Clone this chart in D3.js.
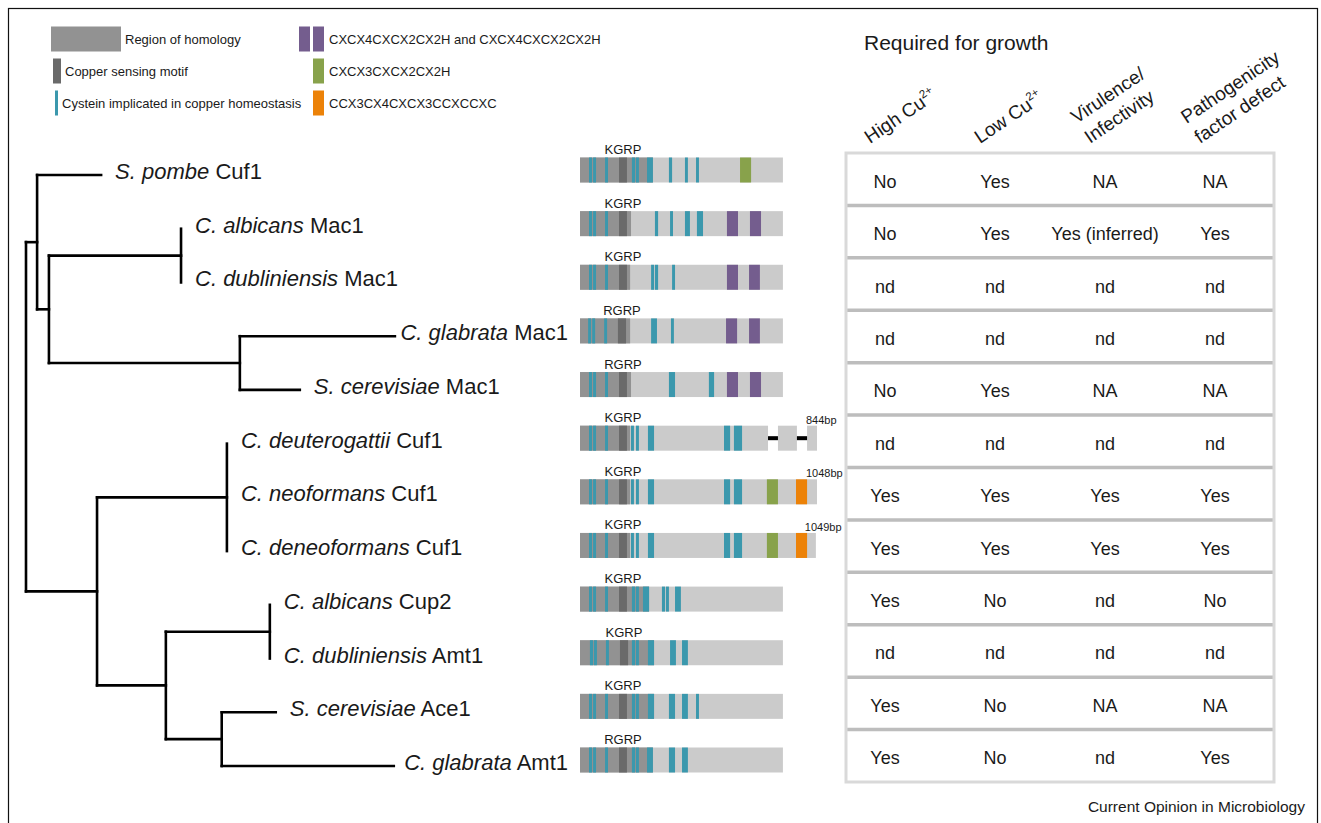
<!DOCTYPE html>
<html>
<head>
<meta charset="utf-8">
<script src="https://cdn.jsdelivr.net/npm/d3@7"></script>
<style>
  html, body { margin: 0; padding: 0; background: #fff; }
  svg { display: block; font-family: "Liberation Sans", Arial, Helvetica, sans-serif; }
</style>
</head>
<body>
<svg id="fig" width="1321" height="823"></svg>
<script>
// rows, top to bottom
const species = ["S. pombe", "C. albicans", "C. dubliniensis", "C. glabrata", "S. cerevisiae",
  "C. deuterogattii", "C. neoformans", "C. deneoformans", "C. albicans", "C. dubliniensis",
  "S. cerevisiae", "C. glabrata"];
const proteins = ["Cuf1", "Mac1", "Mac1", "Mac1", "Mac1", "Cuf1", "Cuf1", "Cuf1", "Cup2", "Amt1", "Ace1", "Amt1"];
const rowKeys = species.map((s, i) => s + " " + proteins[i]);

// tree as a parent table (branch lengths)
const nodeIds = ["root", "n1", "S. pombe Cuf1", "n2", "n3", "C. albicans Mac1", "C. dubliniensis Mac1",
  "n4", "C. glabrata Mac1", "S. cerevisiae Mac1", "n5", "n6", "C. deuterogattii Cuf1",
  "C. neoformans Cuf1", "C. deneoformans Cuf1", "n7", "n8", "C. albicans Cup2",
  "C. dubliniensis Amt1", "n9", "S. cerevisiae Ace1", "C. glabrata Amt1"];
const nodeParents = ["", "root", "n1", "n1", "n2", "n3", "n3", "n2", "n4", "n4", "root", "n5",
  "n6", "n6", "n6", "n5", "n7", "n8", "n8", "n7", "n9", "n9"];
const branchLengths = [0, 0.030, 0.173, 0.032, 0.357, 0, 0, 0.516, 0.419, 0.162, 0.192, 0.351,
  0, 0, 0, 0.186, 0.281, 0, 0, 0.151, 0.146, 0.465];

// protein schematics (positions in residues)
const proteinLength = [899, 899, 899, 899, 899, 1050, 1050, 1045, 899, 899, 899, 899];
const homologyEnd = [323, 226, 222, 222, 226, 222, 222, 222, 306, 328, 328, 323];
const motifName = ["KGRP", "KGRP", "KGRP", "RGRP", "RGRP", "KGRP", "KGRP", "KGRP", "KGRP", "KGRP", "KGRP", "RGRP"];
const copperMotif = [[173, 208], [173, 208], [173, 208], [168, 204], [173, 208], [173, 208],
  [173, 208], [173, 208], [173, 208], [177, 213], [173, 208], [173, 208]];
const cryptoCys = [[40, 53], [58, 71], [111, 124], [226, 239], [248, 261], [301, 328], [638, 665], [682, 718]];
const cysteines = [
  [[40, 53], [58, 71], [111, 124], [230, 244], [248, 261], [297, 323], [394, 408], [465, 478], [514, 527]],
  [[40, 53], [58, 71], [111, 124], [332, 346], [399, 412], [465, 487], [518, 545]],
  [[40, 53], [58, 71], [111, 124], [315, 328], [332, 346], [408, 421]],
  [[36, 49], [54, 67], [107, 120], [315, 341], [403, 416]],
  [[40, 53], [58, 71], [111, 124], [394, 421], [571, 594]],
  cryptoCys, cryptoCys, cryptoCys,
  [[40, 53], [58, 71], [111, 124], [230, 244], [248, 261], [279, 306], [363, 377], [381, 394], [421, 447]],
  [[44, 58], [62, 75], [115, 128], [230, 244], [248, 261], [301, 328], [399, 425], [452, 478]],
  [[40, 53], [58, 71], [111, 124], [230, 244], [248, 261], [301, 328], [394, 421], [452, 478], [514, 527]],
  [[40, 53], [58, 71], [111, 124], [230, 244], [248, 261], [297, 323], [394, 421], [452, 478]]
];
const zincMotifs = [[], [[651, 700], [753, 802]], [[651, 700], [749, 797]], [[647, 696], [749, 797]],
  [[651, 700], [753, 802]], [], [], [], [], [], [], []];
const cx3Motif = [[709, 758], null, null, null, null, null, [828, 877], [828, 877], null, null, null, null];
const ccMotif = [null, null, null, null, null, null, [957, 1006], [957, 1006], null, null, null, null];
const deletedSpans = [[], [], [], [], [], [[833, 877], [961, 1006]], [], [], [], [], [], []];
const lengthLabel = [null, null, null, null, null, "844bp", "1048bp", "1049bp", null, null, null, null];

// table
const columnHeaders = [["High Cu^2+"], ["Low Cu^2+"], ["Virulence/", "Infectivity"], ["Pathogenicity", "factor defect"]];
const highCu = ["No", "No", "nd", "nd", "No", "nd", "Yes", "Yes", "Yes", "nd", "Yes", "Yes"];
const lowCu = ["Yes", "Yes", "nd", "nd", "Yes", "nd", "Yes", "Yes", "No", "nd", "No", "No"];
const virulence = ["NA", "Yes (inferred)", "nd", "nd", "NA", "nd", "Yes", "Yes", "nd", "nd", "NA", "nd"];
const pathogenicity = ["NA", "Yes", "nd", "nd", "NA", "nd", "Yes", "Yes", "No", "nd", "NA", "Yes"];

const legendLeft = ["Region of homology", "Copper sensing motif", "Cystein implicated in copper homeostasis"];
const legendRight = ["CXCX4CXCX2CX2H and CXCX4CXCX2CX2H", "CXCX3CXCX2CX2H", "CCX3CX4CXCX3CCXCCXC"];

const COL = {
  light: "#cbcbcb", homology: "#929292", motif: "#6a6a6a", cys: "#3b98ad",
  zinc: "#745d8e", cx3: "#88a24b", cc: "#ec8208", ink: "#1a1a1a"
};

const svg = d3.select("#fig");

// outer frame
svg.append("rect")
  .attr("x", 8.5).attr("y", 8.5).attr("width", 1309).attr("height", 840)
  .attr("fill", "none").attr("stroke", "#111").attr("stroke-width", 1.2);

// ---------- legend ----------
const legY = d3.scalePoint().domain([0, 1, 2]).range([39, 103]);
const leg = svg.append("g").attr("font-size", 13).attr("fill", COL.ink);
const leftSw = [
  { x: 51, w: 70, fill: COL.homology },
  { x: 53, w: 8, fill: COL.motif },
  { x: 55, w: 3, fill: COL.cys }
];
legendLeft.forEach((t, i) => {
  const s = leftSw[i];
  leg.append("rect").attr("x", s.x).attr("y", legY(i) - 12.5).attr("width", s.w).attr("height", 25).attr("fill", s.fill);
  leg.append("text").attr("x", s.x + s.w + 4).attr("y", legY(i) + 4.5).text(t);
});
const rightFill = [COL.zinc, COL.cx3, COL.cc];
legendRight.forEach((t, i) => {
  if (i === 0) leg.append("rect").attr("x", 299).attr("y", legY(i) - 12.5).attr("width", 11).attr("height", 25).attr("fill", rightFill[i]);
  leg.append("rect").attr("x", 313).attr("y", legY(i) - 12.5).attr("width", 11).attr("height", 25).attr("fill", rightFill[i]);
  leg.append("text").attr("x", 329).attr("y", legY(i) + 4.5).text(t);
});

// ---------- tree ----------
const table = nodeIds.map((id, i) => ({ id, parent: nodeParents[i] || null, len: branchLengths[i] }));
const root = d3.stratify().id(d => d.id).parentId(d => d.parent)(table);
const yLeaf = d3.scalePoint().domain(rowKeys).range([175, 766]);
const xTree = d3.scaleLinear().domain([0, 1]).range([26, 396]);

root.eachBefore(n => { n.dist = n.parent ? n.parent.dist + n.data.len : 0; });
root.eachAfter(n => {
  n.yy = n.children ? (n.children[0].yy + n.children[n.children.length - 1].yy) / 2 : yLeaf(n.id);
});

const gTree = svg.append("g")
  .attr("fill", "none").attr("stroke", "#000").attr("stroke-width", 2.6).attr("stroke-linecap", "square");
root.descendants().forEach(n => {
  if (n.parent && n.data.len > 0) {
    gTree.append("path").attr("d", `M${xTree(n.parent.dist)},${n.yy}H${xTree(n.dist)}`);
  }
  if (n.children) {
    gTree.append("path").attr("d", `M${xTree(n.dist)},${n.children[0].yy}V${n.children[n.children.length - 1].yy}`);
  }
});

const gLab = svg.append("g").attr("font-size", 22).attr("fill", COL.ink);
root.leaves().forEach(n => {
  const i = rowKeys.indexOf(n.id);
  const t = gLab.append("text").attr("y", n.yy + 4);
  t.append("tspan").attr("font-style", "italic").text(species[i]);
  t.append("tspan").text(" " + proteins[i]);
  let x = xTree(n.dist) + 14;
  const w = t.node().getComputedTextLength();
  if (x + w > 568) x = 568 - w;
  t.attr("x", x);
});

// ---------- protein schematics ----------
const xProt = d3.scaleLinear().domain([0, 1050]).range([580, 817]);
const yBar = d3.scalePoint().domain(rowKeys).range([170, 760]);
const barH = 25;
const gProt = svg.append("g");

rowKeys.forEach((k, i) => {
  const cy = yBar(k), top = cy - barH / 2;
  const g = gProt.append("g");
  const seg = (span, fill, h = barH) => g.append("rect")
    .attr("x", xProt(span[0])).attr("y", cy - h / 2)
    .attr("width", xProt(span[1]) - xProt(span[0])).attr("height", h).attr("fill", fill);

  // body minus deleted spans
  let start = 0;
  const bodies = [];
  deletedSpans[i].forEach(d => { bodies.push([start, d[0]]); start = d[1]; });
  bodies.push([start, proteinLength[i]]);
  bodies.forEach(b => seg(b, COL.light));
  deletedSpans[i].forEach(d => seg(d, "#000", 4));

  seg([0, homologyEnd[i]], COL.homology);
  seg(copperMotif[i], COL.motif);
  cysteines[i].forEach(c => seg(c, COL.cys));
  zincMotifs[i].forEach(z => seg(z, COL.zinc));
  if (cx3Motif[i]) seg(cx3Motif[i], COL.cx3);
  if (ccMotif[i]) seg(ccMotif[i], COL.cc);

  g.append("text")
    .attr("x", xProt((copperMotif[i][0] + copperMotif[i][1]) / 2)).attr("y", top - 3.5)
    .attr("text-anchor", "middle").attr("font-size", 13).attr("fill", COL.ink)
    .text(motifName[i]);
  if (lengthLabel[i]) {
    g.append("text")
      .attr("x", xProt(proteinLength[i]) - 11).attr("y", top - 2)
      .attr("font-size", 11).attr("fill", COL.ink).text(lengthLabel[i]);
  }
});

// ---------- table ----------
const columns = [highCu, lowCu, virulence, pathogenicity];
const xCol = d3.scalePoint().domain(d3.range(columns.length)).range([885, 1215]);
const yRow = d3.scaleBand().domain(rowKeys).range([153, 782]);
const tLeft = 846, tRight = 1274;

const gTab = svg.append("g");
gTab.append("text").attr("x", 864).attr("y", 49.5).attr("font-size", 21).attr("fill", COL.ink)
  .text("Required for growth");

columnHeaders.forEach((lines, c) => {
  const g = gTab.append("g")
    .attr("transform", `translate(${xCol(c) - 15},144) rotate(-34)`)
    .attr("font-size", 19).attr("fill", COL.ink);
  lines.forEach((ln, j) => {
    const t = g.append("text").attr("x", 0).attr("y", -(lines.length - 1 - j) * 24);
    const parts = ln.split("^");
    t.append("tspan").text(parts[0]);
    if (parts[1]) t.append("tspan").attr("dy", -8).attr("font-size", 11.5).text(parts[1]);
  });
});

// row separators
rowKeys.slice(1).forEach(k => {
  gTab.append("line").attr("x1", tLeft).attr("x2", tRight)
    .attr("y1", yRow(k)).attr("y2", yRow(k))
    .attr("stroke", "#bdbdbd").attr("stroke-width", 3.5);
});
gTab.append("rect")
  .attr("x", tLeft).attr("y", yRow.range()[0])
  .attr("width", tRight - tLeft).attr("height", yRow.range()[1] - yRow.range()[0])
  .attr("fill", "none").attr("stroke", "#d9d9d9").attr("stroke-width", 3);

columns.forEach((col, c) => {
  col.forEach((v, r) => {
    gTab.append("text")
      .attr("x", xCol(c)).attr("y", yRow(rowKeys[r]) + yRow.bandwidth() / 2 + 8.5)
      .attr("text-anchor", "middle").attr("font-size", 18).attr("fill", COL.ink)
      .text(v);
  });
});

svg.append("text").attr("x", 1305).attr("y", 812).attr("text-anchor", "end")
  .attr("font-size", 15.5).attr("fill", COL.ink).text("Current Opinion in Microbiology");
</script>
</body>
</html>
